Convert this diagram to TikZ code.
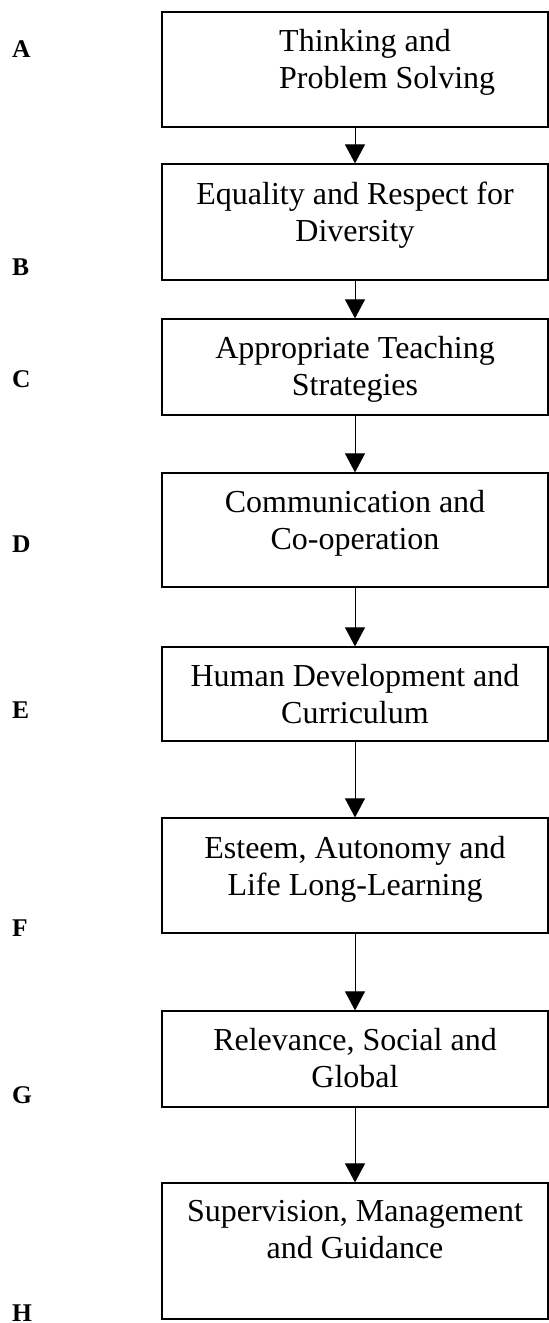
\documentclass[tikz,border=0pt]{standalone}
\usepackage{fontspec}
\setmainfont{Liberation Serif}
\usetikzlibrary{arrows.meta}
\begin{document}
\begin{tikzpicture}[x=1pt,y=-1pt,
  boxnode/.style={draw, line width=1.2pt, minimum width=386pt, inner sep=0pt},
  boxtext/.style={font=\fontsize{32}{36.5}\selectfont, align=center, inner sep=0pt, anchor=base},
  letter/.style={font=\fontsize{25.5}{30}\selectfont\bfseries, inner sep=0pt, anchor=base west},
  flow/.style={line width=1pt, -{Triangle[width=20pt,length=19pt]}}]
\useasboundingbox (0,0) rectangle (549,1323);
% boxes (x 162..548)
\node[boxnode, minimum height=115pt] (bA) at (355,69.5) {};
\node[boxnode, minimum height=116pt] (bB) at (355,222) {};
\node[boxnode, minimum height=96pt] (bC) at (355,367) {};
\node[boxnode, minimum height=114pt] (bD) at (355,530) {};
\node[boxnode, minimum height=94pt] (bE) at (355,694) {};
\node[boxnode, minimum height=115pt] (bF) at (355,875.5) {};
\node[boxnode, minimum height=96pt] (bG) at (355,1059) {};
\node[boxnode, minimum height=136pt] (bH) at (355,1251) {};
% texts (anchor base = last line's baseline)
\node[boxtext, anchor=base west, align=left] (tA) at (279,88) {Thinking and\\Problem Solving};
\node[boxtext] (tB) at (355,241) {Equality and Respect for\\Diversity};
\node[boxtext] (tC) at (355,395) {Appropriate Teaching\\Strategies};
\node[boxtext] (tD) at (355,549) {Communication and\\Co-operation};
\node[boxtext] (tE) at (355,723) {Human Development and\\Curriculum};
\node[boxtext] (tF) at (355,895) {Esteem, Autonomy and\\Life Long-Learning};
\node[boxtext] (tG) at (355,1087) {Relevance, Social and\\Global};
\node[boxtext] (tH) at (355,1258) {Supervision, Management\\and Guidance};
% letters
\node[letter] (lA) at (12,57) {A};
\node[letter] (lB) at (12,275) {B};
\node[letter] (lC) at (12,387) {C};
\node[letter] (lD) at (12,552) {D};
\node[letter] (lE) at (12,718) {E};
\node[letter] (lF) at (12,936) {F};
\node[letter] (lG) at (12,1103) {G};
\node[letter] (lH) at (12,1321) {H};
% arrows
\draw[flow] (bA.south) -- (bB.north);
\draw[flow] (bB.south) -- (bC.north);
\draw[flow] (bC.south) -- (bD.north);
\draw[flow] (bD.south) -- (bE.north);
\draw[flow] (bE.south) -- (bF.north);
\draw[flow] (bF.south) -- (bG.north);
\draw[flow] (bG.south) -- (bH.north);
\end{tikzpicture}
\end{document}
